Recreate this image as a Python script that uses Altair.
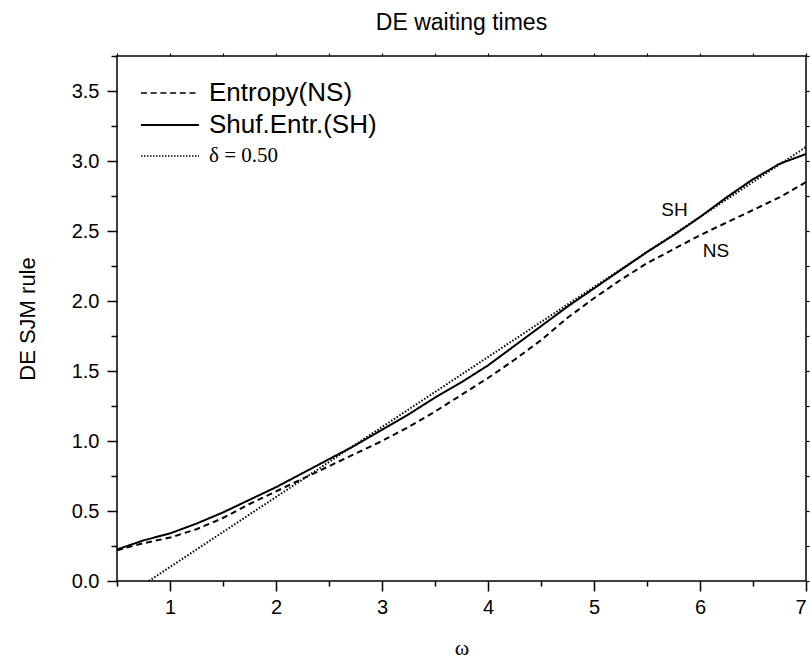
import altair as alt
import pandas as pd

# ---- data ----
omega = [0.5, 0.75, 1.0, 1.25, 1.5, 1.75, 2.0, 2.25, 2.5, 2.75, 3.0, 3.25, 3.5,
         3.75, 4.0, 4.25, 4.5, 4.75, 5.0, 5.25, 5.5, 5.75, 6.0, 6.25, 6.5, 6.75, 7.0]
ns_vals = [0.22, 0.27, 0.31, 0.37, 0.45, 0.55, 0.64, 0.73, 0.82, 0.91, 1.00, 1.10, 1.21,
           1.33, 1.45, 1.58, 1.72, 1.88, 2.02, 2.15, 2.27, 2.37, 2.47, 2.56, 2.65, 2.74, 2.85]
sh_vals = [0.225, 0.29, 0.34, 0.41, 0.49, 0.58, 0.67, 0.77, 0.87, 0.97, 1.08, 1.19, 1.31,
           1.42, 1.54, 1.68, 1.82, 1.96, 2.09, 2.22, 2.35, 2.47, 2.60, 2.74, 2.87, 2.98, 3.05]
delta_x = [0.8, 7.0]
delta_y = [0.0, 3.1]

ann_labels = ["SH", "NS"]
ann_x = [5.76, 6.15]
ann_y = [2.65, 2.36]

x_major = [1, 2, 3, 4, 5, 6, 7]
x_minor = [0.5, 1.5, 2.5, 3.5, 4.5, 5.5, 6.5]
x_top = [0.5, 1, 1.5, 2, 2.5, 3, 3.5, 4, 4.5, 5, 5.5, 6, 6.5, 7]
y_major = [0.0, 0.5, 1.0, 1.5, 2.0, 2.5, 3.0, 3.5]
y_minor = [0.25, 0.75, 1.25, 1.75, 2.25, 2.75, 3.25, 3.75]
y_all = [0.0, 0.25, 0.5, 0.75, 1.0, 1.25, 1.5, 1.75, 2.0, 2.25, 2.5, 2.75,
         3.0, 3.25, 3.5, 3.75]

rows = []
for xv, yv in zip(omega, ns_vals):
    rows.append({"omega": xv, "val": yv, "series": "NS"})
for xv, yv in zip(omega, sh_vals):
    rows.append({"omega": xv, "val": yv, "series": "SH"})
for xv, yv in zip(delta_x, delta_y):
    rows.append({"omega": xv, "val": yv, "series": "D"})
df = pd.DataFrame(rows)
ann = pd.DataFrame({"omega": ann_x, "val": ann_y, "lab": ann_labels})

SANS = "Liberation Sans"
SERIF = "Liberation Serif"

X = alt.Scale(domain=[0.5, 7], nice=False, zero=False)
Y = alt.Scale(domain=[0, 3.75], nice=False, zero=False)

lines = alt.Chart(df).mark_line(color="black", clip=True).encode(
    x=alt.X("omega:Q", scale=X, axis=alt.Axis(
        orient="bottom", values=x_major, tickSize=10, tickWidth=1.5, tickColor="black",
        labelFont=SANS, labelFontSize=20, labelColor="black", labelPadding=6,
        domain=False, grid=False, title="ω", titleFont=SERIF, titleFontSize=22,
        titleFontWeight="normal", titleColor="black", titlePadding=20)),
    y=alt.Y("val:Q", scale=Y, axis=alt.Axis(
        orient="left", values=y_major, format=".1f", tickSize=10, tickWidth=1.5,
        tickColor="black", labelFont=SANS, labelFontSize=20, labelColor="black",
        labelPadding=8, domain=False, grid=False, title="DE SJM rule",
        titleFont=SANS, titleFontSize=22, titleFontWeight="normal",
        titleColor="black", titlePadding=32)),
    strokeDash=alt.StrokeDash("series:N", scale=alt.Scale(
        domain=["NS", "SH", "D"], range=[[6, 4], [1, 0], [1.5, 1.8]]), legend=None),
    strokeWidth=alt.StrokeWidth("series:N", scale=alt.Scale(
        domain=["NS", "SH", "D"], range=[2.0, 2.0, 1.5]), legend=None),
)

minor = alt.Chart(df).mark_point(opacity=0).encode(
    x=alt.X("omega:Q", scale=X, axis=alt.Axis(
        orient="bottom", values=x_minor, tickSize=5, tickWidth=1.5, tickColor="black",
        labels=False, domain=False, grid=False, title=None)),
    y=alt.Y("val:Q", scale=Y, axis=alt.Axis(
        orient="left", values=y_minor, tickSize=6, tickWidth=1.5, tickColor="black",
        labels=False, domain=False, grid=False, title=None)),
)

frame = alt.Chart(df).mark_point(opacity=0).encode(
    x=alt.X("omega:Q", scale=X, axis=alt.Axis(
        orient="top", values=x_top, tickSize=3, tickWidth=1.2, tickColor="black",
        labels=False, domain=False, grid=False, title=None)),
    y=alt.Y("val:Q", scale=Y, axis=alt.Axis(
        orient="right", values=y_all, tickSize=3, tickWidth=1.2, tickColor="black",
        labels=False, domain=False, grid=False, title=None)),
)

annot = alt.Chart(ann).mark_text(font=SANS, fontSize=19, color="black").encode(
    x=alt.X("omega:Q", scale=X, axis=None),
    y=alt.Y("val:Q", scale=Y, axis=None),
    text="lab:N",
)

one = alt.Data(values=[{}])
leg_layers = []
leg_items = [
    ("Entropy(NS)", SANS, 26, 37, [6, 3.7], 1.6),
    ("Shuf.Entr.(SH)", SANS, 26, 69, [1, 0], 2.0),
    ("δ = 0.50", SERIF, 21, 100, [1.5, 1.5], 1.3),
]
for label, fnt, fs, yy, dash, sw in leg_items:
    leg_layers.append(
        alt.Chart(one).mark_rule(color="black", strokeDash=dash, strokeWidth=sw).encode(
            x=alt.value(24), x2=alt.value(82), y=alt.value(yy))
    )
    leg_layers.append(
        alt.Chart(one).mark_text(text=label, font=fnt, fontSize=fs, color="black",
                                 align="left", baseline="middle").encode(
            x=alt.value(92), y=alt.value(yy))
    )

chart = alt.layer(lines, minor, frame, annot, *leg_layers).resolve_axis(
    x="independent", y="independent"
).properties(
    width=689, height=525,
    title=alt.TitleParams("DE waiting times", font=SANS, fontSize=23,
                          fontWeight="normal", color="black", anchor="middle",
                          baseline="alphabetic", offset=-1),
    autosize=alt.AutoSizeParams(type="none"),
    padding={"left": 117, "top": 56, "right": 6, "bottom": 79},
    background="white",
).configure_view(stroke="black", strokeWidth=1.5)

chart.save("out.html", embed_options={"renderer": "svg", "actions": False})
